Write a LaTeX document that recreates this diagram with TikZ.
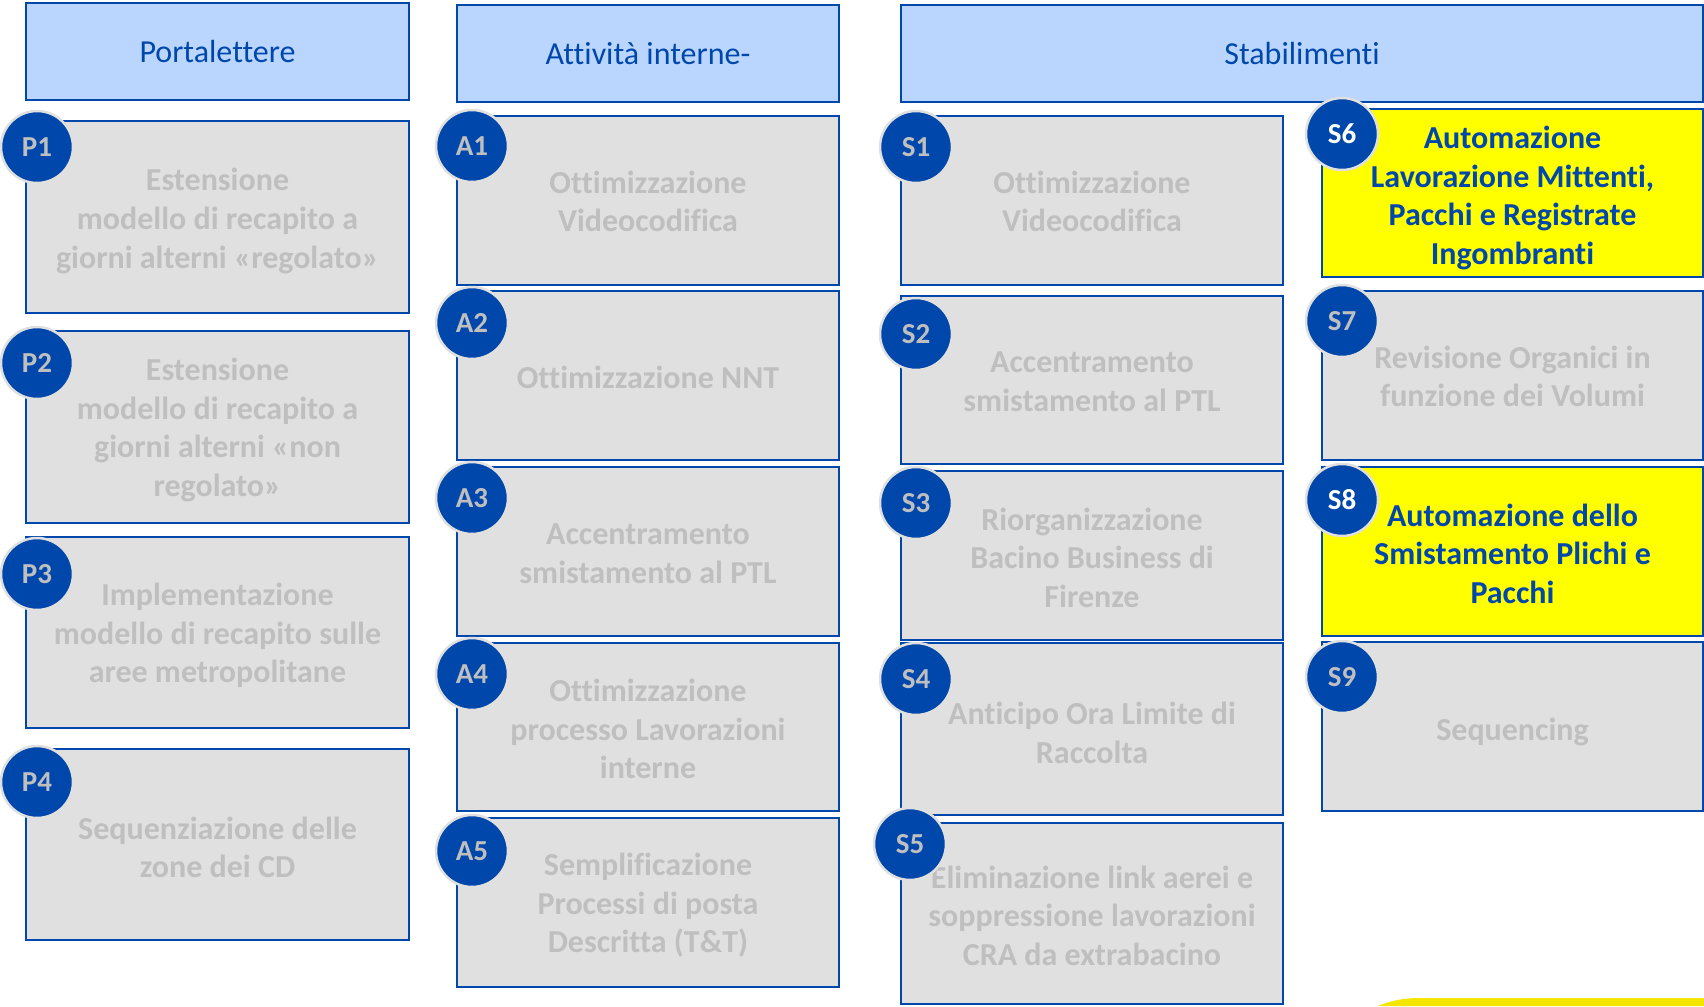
\documentclass[tikz,border=0pt]{standalone}
\usepackage{fontspec}
\setmainfont[RawFeature={-liga;-clig;-calt;-dlig}]{Carlito}
\definecolor{bblue}{HTML}{0047AB}
\definecolor{hfill}{HTML}{BAD6FF}
\definecolor{gfill}{HTML}{E0E0E0}
\definecolor{gtext}{HTML}{BFBFBF}
\definecolor{yfill}{HTML}{FFFF00}
\definecolor{barYellow}{HTML}{F5E600}
\tikzset{
  hbox/.style={draw=bblue, line width=2pt, fill=hfill, text=bblue, align=center, inner sep=0pt,
    font=\fontsize{32}{38}\selectfont},
  gbox/.style={draw=bblue, line width=2pt, fill=gfill, inner sep=0pt},
  ybox/.style={draw=bblue, line width=2pt, fill=yfill, inner sep=0pt},
  gtxt/.style={text=gtext, align=center, inner sep=0pt, font=\bfseries\fontsize{32}{38.6}\selectfont},
  ytxt/.style={gtxt, text=bblue},
  badge/.style={circle, fill=bblue, draw=gfill, line width=2.5pt, minimum size=72pt, inner sep=0pt,
    text=gtext, font=\bfseries\fontsize{29}{30}\selectfont},
  wbadge/.style={badge, text=white}
}
\begin{document}
\begin{tikzpicture}[x=1pt,y=-1pt]
\useasboundingbox (0,0) rectangle (1704,1006);
% headers
\node[hbox, minimum width=383pt, minimum height=97pt] (hp) at (217.5,51.5) {Portalettere};
\node[hbox, minimum width=382pt, minimum height=97pt] (ha) at (648,53.5) {Attività interne-};
\node[hbox, minimum width=802pt, minimum height=97pt] (hs) at (1302,53.5) {Stabilimenti};
% P column
\node[gbox, minimum width=383pt, minimum height=192pt] (p1) at (217.5,217) {};
\node[gtxt] (p1t) at ([yshift=-4pt]p1.center) {Estensione\\modello di recapito a\\giorni alterni «regolato»};
\node[gbox, minimum width=383pt, minimum height=192pt] (p2) at (217.5,427) {};
\node[gtxt] (p2t) at ([yshift=-3pt]p2.center) {Estensione\\modello di recapito a\\giorni alterni «non\\regolato»};
\node[gbox, minimum width=383pt, minimum height=191pt] (p3) at (217.5,632.5) {};
\node[gtxt] (p3t) at ([yshift=-3pt]p3.center) {Implementazione\\modello di recapito sulle\\aree metropolitane};
\node[gbox, minimum width=383pt, minimum height=191pt] (p4) at (217.5,844.5) {};
\node[gtxt] (p4t) at ([yshift=-3pt]p4.center) {Sequenziazione delle\\zone dei CD};
% A column
\node[gbox, minimum width=382pt, minimum height=169pt] (a1) at (648,200.5) {};
\node[gtxt] (a1t) at ([yshift=-1pt]a1.center) {Ottimizzazione\\Videocodifica};
\node[gbox, minimum width=382pt, minimum height=169pt] (a2) at (648,375.5) {};
\node[gtxt] (a2t) at ([yshift=-2pt]a2.center) {Ottimizzazione NNT};
\node[gbox, minimum width=382pt, minimum height=169pt] (a3) at (648,551.5) {};
\node[gtxt] (a3t) at ([yshift=-2pt]a3.center) {Accentramento\\smistamento al PTL};
\node[gbox, minimum width=382pt, minimum height=168pt] (a4) at (648,727) {};
\node[gtxt] (a4t) at ([yshift=-2pt]a4.center) {Ottimizzazione\\processo Lavorazioni\\interne};
\node[gbox, minimum width=382pt, minimum height=169pt] (a5) at (648,902.5) {};
\node[gtxt] (a5t) at ([yshift=-3pt]a5.center) {Semplificazione\\Processi di posta\\Descritta (T\&T)};
% S left column
\node[gbox, minimum width=382pt, minimum height=169pt] (s1) at (1092,200.5) {};
\node[gtxt] (s1t) at ([yshift=-1pt]s1.center) {Ottimizzazione\\Videocodifica};
\node[gbox, minimum width=382pt, minimum height=168pt] (s2) at (1092,380) {};
\node[gtxt] (s2t) at ([yshift=-2pt]s2.center) {Accentramento\\smistamento al PTL};
\node[gbox, minimum width=382pt, minimum height=169pt] (s3) at (1092,555.5) {};
\node[gtxt] (s3t) at ([yshift=-2pt]s3.center) {Riorganizzazione\\Bacino Business di\\Firenze};
\node[gbox, minimum width=382pt, minimum height=172pt] (s4) at (1092,729) {};
\node[gtxt] (s4t) at ([yshift=-4pt]s4.center) {Anticipo Ora Limite di\\Raccolta};
\node[gbox, minimum width=382pt, minimum height=181pt] (s5) at (1092,913.5) {};
\node[gtxt] (s5t) at ([yshift=-2pt]s5.center) {Eliminazione link aerei e\\soppressione lavorazioni\\CRA da extrabacino};
% S right column
\node[ybox, minimum width=381pt, minimum height=168pt] (s6) at (1512.5,193) {};
\node[ytxt] (s6t) at ([yshift=-5pt]s6.center) {Automazione\\Lavorazione Mittenti,\\Pacchi e Registrate\\Ingombranti};
\node[gbox, minimum width=381pt, minimum height=169pt] (s7) at (1512.5,375.5) {};
\node[gtxt] (s7t) at ([yshift=-1pt]s7.center) {Revisione Organici in\\funzione dei Volumi};
\node[ybox, minimum width=381pt, minimum height=169pt] (s8) at (1512.5,551.5) {};
\node[ytxt] (s8t) at ([yshift=-2pt]s8.center) {Automazione dello\\Smistamento Plichi e\\Pacchi};
\node[gbox, minimum width=381pt, minimum height=169pt] (s9) at (1512.5,726.5) {};
\node[gtxt] (s9t) at ([yshift=-5pt]s9.center) {Sequencing};
% badges
\node[badge] (bp1) at (37,147) {P1};
\node[badge] (bp2) at (37,363) {P2};
\node[badge] (bp3) at (37,574) {P3};
\node[badge] (bp4) at (37,782) {P4};
\node[badge] (ba1) at (472,146) {A1};
\node[badge] (ba2) at (472,323) {A2};
\node[badge] (ba3) at (472,498) {A3};
\node[badge] (ba4) at (472,674) {A4};
\node[badge] (ba5) at (472,851) {A5};
\node[badge] (bs1) at (916,147) {S1};
\node[badge] (bs2) at (916,334) {S2};
\node[badge] (bs3) at (916,503) {S3};
\node[badge] (bs4) at (916,679) {S4};
\node[badge] (bs5) at (910,844) {S5};
\node[wbadge] (bs6) at (1342,134) {S6};
\node[badge] (bs7) at (1342,321) {S7};
\node[wbadge] (bs8) at (1342,500) {S8};
\node[badge] (bs9) at (1342,677) {S9};
% yellow bar bottom right
\fill[fill=barYellow] (1378,1006) .. controls (1392,1000) and (1405,998) .. (1420,998) -- (1704,998) -- (1704,1006) -- cycle;
\end{tikzpicture}
\end{document}
